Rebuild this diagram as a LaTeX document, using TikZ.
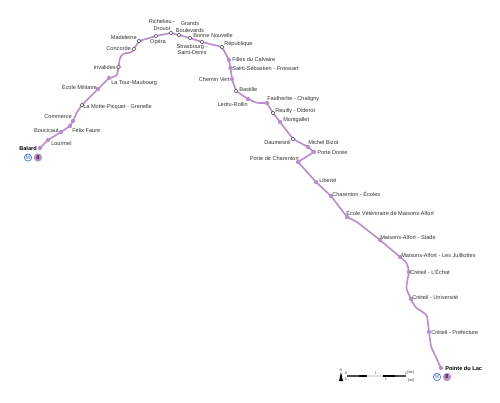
\documentclass[tikz,border=0pt]{standalone}
\usepackage{fontspec}
\setmainfont{Liberation Sans}
\usetikzlibrary{backgrounds}
\definecolor{lineviolet}{HTML}{B98FCC}
\definecolor{metroblue}{HTML}{3F74C4}
\tikzset{
  stop/.style={circle, fill=lineviolet, inner sep=0pt, minimum size=3.2pt},
  hub/.style={circle, draw=black!70, fill=white, line width=0.4pt, inner sep=0pt, minimum size=2.9pt},
  stationtext/.style={font=\fontsize{4.2}{4.7}\selectfont, text=black!80, inner sep=0pt, align=center},
  boldtext/.style={stationtext, font=\fontsize{4.2}{4.7}\selectfont\bfseries, text=black},
  metrologo/.style={circle, draw=metroblue, fill=white, line width=0.5pt, inner sep=0pt, minimum size=5.5pt, font=\fontsize{4.2}{4.2}\selectfont, text=metroblue},
  linelogo/.style={circle, fill=lineviolet, inner sep=0pt, minimum size=6.2pt, font=\fontsize{4.2}{4.2}\selectfont\bfseries, text=black!85},
  scaletext/.style={font=\fontsize{2.8}{3}\selectfont, text=black!75, inner sep=0pt}
}
\begin{document}
\begin{tikzpicture}[x=0.75pt, y=-0.75pt]
  \useasboundingbox (0,0) rectangle (500,403);
  % stations
  \foreach \id/\x/\y in {balard/40/148, lourmel/48/140, boucicaut/61/132, felix/70/126, commerce/73/121,
    ecole/98/89, tour/109/78, filles/229/60, sebastien/230.5/68, chemin/232/79, ledru/248/99,
    faidherbe/267/103, montgallet/280/122, bizot/308/147, doree/314/152, charenton/298/162,
    liberte/316/182, ecoles/331/196, veterinaire/347/217, stade/380/240, juilliottes/400/257,
    echat/409/272, universite/411/299, prefecture/429/332, lac/441/368}
    \node[stop] (\id) at (\x,\y) {};
  \foreach \id/\x/\y in {motte/82/105, invalides/118.5/67, concorde/134/49, madeleine/139/41, opera/156/36,
    richelieu/171/33, grands/179/35, bonne/190/38, strasbourg/202/42, republique/222/47,
    bastille/236/91, reuilly/273/113, daumesnil/293/139}
    \node[hub] (\id) at (\x,\y) {};
  % bends between stations
  \foreach \id/\x/\y in {a/77/112, b/117/76, c/120/57, d/124/53, e/131/53, f/257/103, g/357/222,
    h/407/263, i/406/288, j/415/307, k/427/315, l/431/347, m/435/355}
    \coordinate (bend\id) at (\x,\y);
  \begin{scope}[on background layer]
    \draw[lineviolet, line width=1.25pt, rounded corners=2pt, line join=round]
      (balard.center) -- (lourmel.center) -- (boucicaut.center) -- (felix.center) -- (commerce.center)
      -- (benda) -- (motte.center) -- (ecole.center) -- (tour.center) -- (bendb) -- (invalides.center)
      -- (bendc) -- (bendd) -- (bende) -- (concorde.center) -- (madeleine.center) -- (opera.center)
      -- (richelieu.center) -- (grands.center) -- (bonne.center) -- (strasbourg.center) -- (republique.center)
      -- (filles.center) -- (sebastien.center) -- (chemin.center) -- (bastille.center) -- (ledru.center)
      -- (bendf) -- (faidherbe.center) -- (reuilly.center) -- (montgallet.center) -- (daumesnil.center)
      -- (bizot.center) -- (doree.center) -- (charenton.center) -- (liberte.center) -- (ecoles.center)
      -- (veterinaire.center) -- (bendg) -- (stade.center) -- (juilliottes.center) -- (bendh) -- (echat.center)
      -- (bendi) -- (universite.center) -- (bendj) -- (bendk) -- (prefecture.center) -- (bendl) -- (bendm)
      -- (lac.center);
  \end{scope}
  % labels
  \node[boldtext, anchor=east] (tbalard) at (37,148) {Balard};
  \node[stationtext, anchor=west] (tlourmel) at (51,143) {Lourmel};
  \node[stationtext, anchor=east] (tboucicaut) at (59,130) {Boucicaut};
  \node[stationtext, anchor=west] (tfelix) at (72,130) {Félix Faure};
  \node[stationtext, anchor=east] (tcommerce) at (72,117) {Commerce};
  \node[stationtext, anchor=west] (tmotte) at (83,107) {La Motte-Picquet - Grenelle};
  \node[stationtext, anchor=east] (tecole) at (97,87) {École Militaire};
  \node[stationtext, anchor=west] (ttour) at (111,83) {La Tour-Maubourg};
  \node[stationtext, anchor=east] (tinvalides) at (116,67) {Invalides};
  \node[stationtext, anchor=east] (tconcorde) at (131,48) {Concorde};
  \node[stationtext, anchor=east] (tmadeleine) at (137,37) {Madeleine};
  \node[stationtext] (topera) at (158,42) {Opéra};
  \node[stationtext] (trichelieu) at (162,25) {Richelieu -\\Drouot};
  \node[stationtext] (tgrands) at (190,27) {Grands\\Boulevards};
  \node[stationtext, anchor=west] (tbonne) at (193,35) {Bonne Nouvelle};
  \node[stationtext] (tstrasbourg) at (192,49.5) {Strasbourg -\\Saint-Denis};
  \node[stationtext, anchor=west] (trepublique) at (224,44) {République};
  \node[stationtext, anchor=west] (tfilles) at (232,59) {Filles du Calvaire};
  \node[stationtext, anchor=west] (tsebastien) at (232,68) {Saint-Sébastien - Froissart};
  \node[stationtext, anchor=east] (tchemin) at (230,79) {Chemin Vert};
  \node[stationtext, anchor=west] (tbastille) at (239,89) {Bastille};
  \node[stationtext, anchor=east] (tledru) at (248,104) {Ledru-Rollin};
  \node[stationtext, anchor=west] (tfaidherbe) at (267,99) {Faidherbe - Chaligny};
  \node[stationtext, anchor=west] (treuilly) at (275,111) {Reuilly - Diderot};
  \node[stationtext, anchor=west] (tmontgallet) at (283,120) {Montgallet};
  \node[stationtext, anchor=east] (tdaumesnil) at (291,142) {Daumesnil};
  \node[stationtext, anchor=west] (tbizot) at (308,142) {Michel Bizot};
  \node[stationtext, anchor=west] (tdoree) at (317,152) {Porte Dorée};
  \node[stationtext, anchor=east] (tcharenton) at (299,158) {Porte de Charenton};
  \node[stationtext, anchor=west] (tliberte) at (319,180) {Liberté};
  \node[stationtext, anchor=west] (tecoles) at (332,194) {Charenton - Écoles};
  \node[stationtext, anchor=west] (tveterinaire) at (346,213) {École Vétérinaire de Maisons-Alfort};
  \node[stationtext, anchor=west] (tstade) at (380,237) {Maisons-Alfort - Stade};
  \node[stationtext, anchor=west] (tjuilliottes) at (401,255) {Maisons-Alfort - Les Juilliottes};
  \node[stationtext, anchor=west] (techat) at (410,272) {Créteil - L'Échat};
  \node[stationtext, anchor=west] (tuniversite) at (412,297) {Créteil - Université};
  \node[stationtext, anchor=west] (tprefecture) at (431,332) {Créteil - Préfecture};
  \node[boldtext, anchor=west] (tlac) at (445,368) {Pointe du Lac};
  % logos
  \node[metrologo] (mbalard) at (28,157.5) {M};
  \node[linelogo] (lbalard) at (38,157.5) {8};
  \node[metrologo] (mlac) at (437,377) {M};
  \node[linelogo] (llac) at (447,377) {8};
  % scale bar
  \fill[black!70] (347,375.3) rectangle (359,377);
  \fill[black] (359,375.3) rectangle (367,377);
  \fill[black!12] (367,375.3) rectangle (383,377);
  \fill[black] (383,375.3) rectangle (395,377);
  \fill[black!70] (395,375.3) rectangle (406,377);
  \fill[black] (341,372) -- (343,381) -- (339,381) -- cycle;
  \node[scaletext] (tnorth) at (341,370) {N};
  \node[scaletext] (tzero) at (346,373.5) {0};
  \node[scaletext] (tone) at (376,373.5) {1};
  \node[scaletext] (ttwo) at (406,373.5) {2};
  \node[scaletext] (tkm) at (411,373) {[km]};
  \node[scaletext] (tzeromi) at (346,379.5) {0};
  \node[scaletext] (tonemi) at (386,379.5) {1};
  \node[scaletext] (tmi) at (411,380.5) {[mi]};
\end{tikzpicture}
\end{document}
